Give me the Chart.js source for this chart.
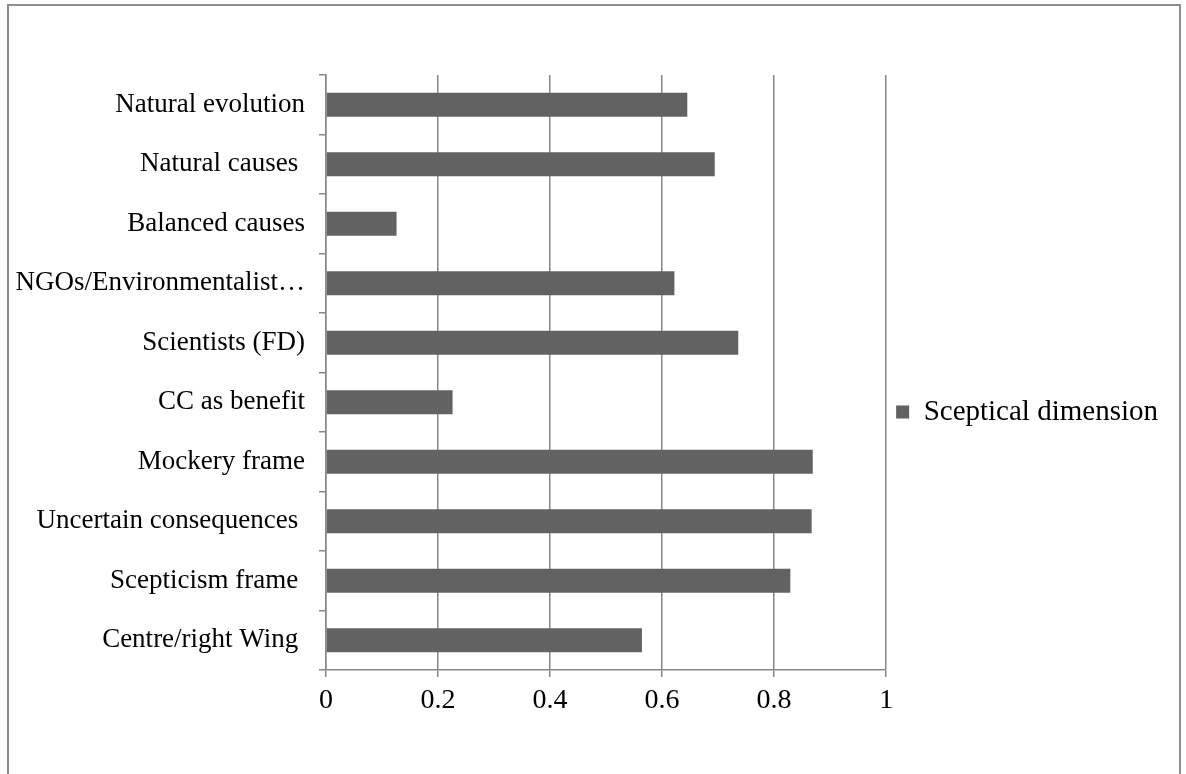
<!DOCTYPE html>
<html>
<head>
<meta charset="utf-8">
<script src="https://cdn.jsdelivr.net/npm/chart.js@4"></script>
<style>
  html, body { margin: 0; padding: 0; background: #ffffff; overflow: hidden; }
  #wrap { position: relative; width: 1186px; height: 774px; }
  #frame {
    position: absolute; left: 7px; top: 4px; width: 1174px; height: 860px;
    border: 2px solid #8e8e8e; box-sizing: border-box;
  }
  #c { position: absolute; left: 0; top: 0; }
</style>
</head>
<body>
<div id="wrap">
  <div id="frame"></div>
  <canvas id="c" width="1186" height="774"></canvas>
</div>
<script>
// Frame categories, listed top to bottom
const categories = [
  'Natural evolution',
  'Natural causes ',
  'Balanced causes',
  'NGOs/Environmentalist\u2026',
  'Scientists (FD)',
  'CC as benefit',
  'Mockery frame',
  'Uncertain consequences ',
  'Scepticism frame ',
  'Centre/right Wing '
];

// Share of each frame within the sceptical dimension
const scepticalValues = [0.645, 0.694, 0.126, 0.622, 0.736, 0.226, 0.869, 0.867, 0.829, 0.564];

const seriesName = 'Sceptical dimension';

// Value axis ticks
const xTicks = [0, 0.2, 0.4, 0.6, 0.8, 1];

const serif = '"Liberation Serif", "Times New Roman", Times, serif';
const gridGrey = '#878787';

new Chart(document.getElementById('c'), {
  type: 'bar',
  data: {
    labels: categories,
    datasets: [{
      label: seriesName,
      data: scepticalValues,
      backgroundColor: '#626262',
      borderWidth: 0,
      barPercentage: 0.4,
      categoryPercentage: 1.0
    }]
  },
  options: {
    indexAxis: 'y',
    responsive: false,
    animation: false,
    devicePixelRatio: 1,
    layout: { padding: { top: 75, bottom: 25, left: 0, right: 18 } },
    plugins: {
      tooltip: { enabled: false },
      legend: {
        position: 'right',
        align: 'center',
        labels: {
          font: { family: serif, size: 29 },
          color: '#000000',
          boxWidth: 13,
          boxHeight: 13,
          padding: 10
        }
      }
    },
    scales: {
      x: {
        min: 0,
        max: 1,
        afterBuildTicks: (scale) => { scale.ticks = xTicks.map(v => ({ value: v })); },
        afterFit: (scale) => { scale.height = 79; },
        ticks: {
          font: { family: serif, size: 28 },
          color: '#000000',
          padding: 7,
          callback: (v) => String(v)
        },
        grid: {
          color: gridGrey,
          lineWidth: 1.5,
          drawOnChartArea: true,
          drawTicks: true,
          tickLength: 7
        },
        border: { color: gridGrey, width: 1.5 }
      },
      y: {
        afterFit: (scale) => { scale.width = 326; },
        ticks: {
          font: { family: serif, size: 27 },
          color: '#000000',
          padding: 14,
          autoSkip: false
        },
        grid: {
          color: gridGrey,
          lineWidth: 1.5,
          drawOnChartArea: false,
          drawTicks: true,
          tickLength: 7
        },
        border: { color: gridGrey, width: 1.5 }
      }
    }
  }
});
</script>
</body>
</html>
